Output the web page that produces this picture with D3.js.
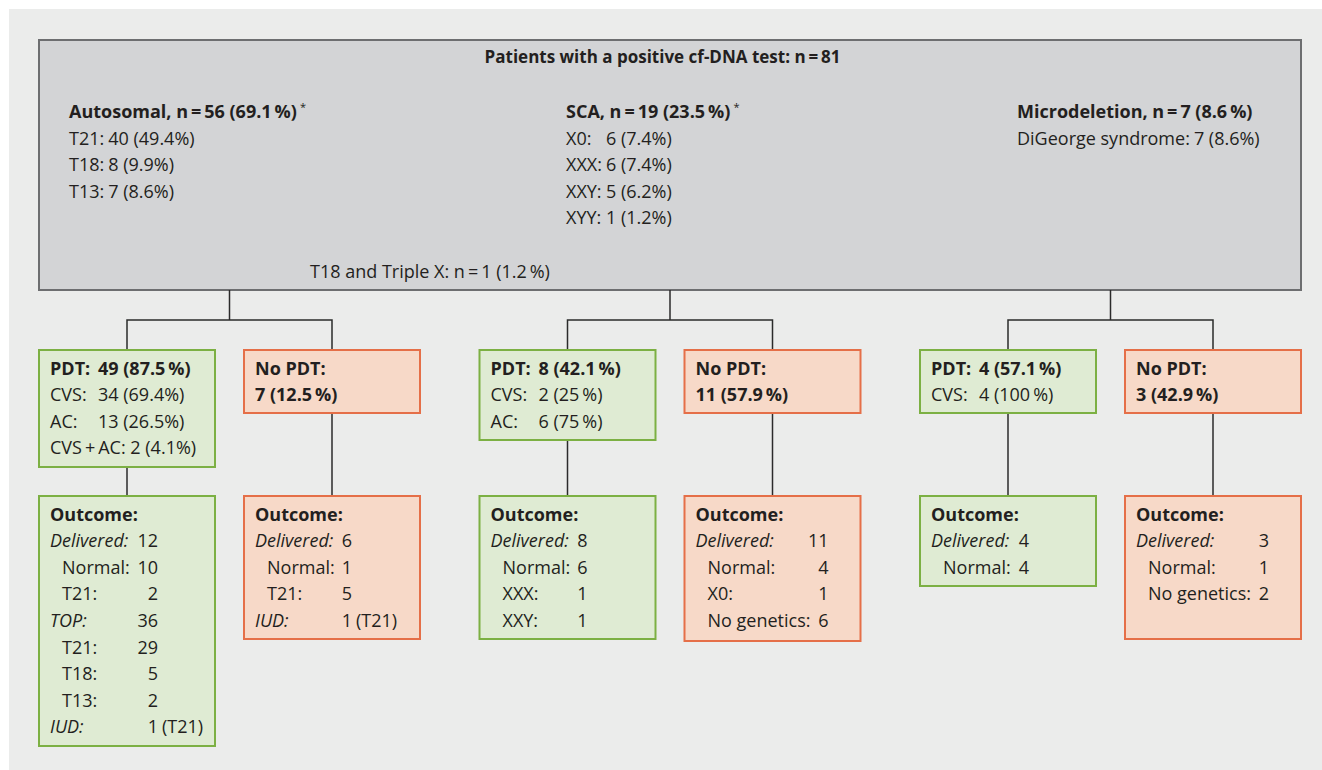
<!DOCTYPE html>
<html>
<head>
<meta charset="utf-8">
<script src="https://cdn.jsdelivr.net/npm/d3@7"></script>
<style>
  html, body { margin: 0; padding: 0; background: #ffffff; }
  svg text { font-family: "Open Sans", Lato, sans-serif; fill: #231f20; }
</style>
</head>
<body>
<div id="chart"></div>
<script>
// Texte du schéma
const title = "Patients with a positive cf-DNA test: n\u2009=\u200981";
const groupHeads = ["Autosomal, n\u2009=\u200956 (69.1\u2009%)", "SCA, n\u2009=\u200919 (23.5\u2009%)", "Microdeletion, n\u2009=\u20097 (8.6\u2009%)"];
const groupStars = [true, true, false];
const groupLines = [
  [["T21:", "40 (49.4%)"], ["T18:", "8 (9.9%)"], ["T13:", "7 (8.6%)"]],
  [["X0:", "6 (7.4%)"], ["XXX:", "6 (7.4%)"], ["XXY:", "5 (6.2%)"], ["XYY:", "1 (1.2%)"]],
  [["DiGeorge syndrome:", "7 (8.6%)"]]
];
const overlapNote = "T18 and Triple X: n\u2009=\u20091 (1.2\u2009%)";

// [label, value, style, suffix]
const pdtLines = [
  [["PDT:", "49 (87.5\u2009%)", "head"], ["CVS:", "34 (69.4%)"], ["AC:", "13 (26.5%)"], ["CVS\u2009+\u2009AC: 2 (4.1%)"]],
  [["PDT:", "8 (42.1\u2009%)", "head"], ["CVS:", "2 (25\u2009%)"], ["AC:", "6 (75\u2009%)"]],
  [["PDT:", "4 (57.1\u2009%)", "head"], ["CVS:", "4 (100\u2009%)"]]
];
const noPdtLines = [
  [["No PDT:", null, "head"], ["7 (12.5\u2009%)", null, "head"]],
  [["No PDT:", null, "head"], ["11 (57.9\u2009%)", null, "head"]],
  [["No PDT:", null, "head"], ["3 (42.9\u2009%)", null, "head"]]
];
const pdtOutcome = [
  [["Outcome:", null, "head"], ["Delivered:", "12", "cat"], ["Normal:", "10", "sub"], ["T21:", "2", "sub"],
   ["TOP:", "36", "cat"], ["T21:", "29", "sub"], ["T18:", "5", "sub"], ["T13:", "2", "sub"], ["IUD:", "1", "cat", "(T21)"]],
  [["Outcome:", null, "head"], ["Delivered:", "8", "cat"], ["Normal:", "6", "sub"], ["XXX:", "1", "sub"], ["XXY:", "1", "sub"]],
  [["Outcome:", null, "head"], ["Delivered:", "4", "cat"], ["Normal:", "4", "sub"]]
];
const noPdtOutcome = [
  [["Outcome:", null, "head"], ["Delivered:", "6", "cat"], ["Normal:", "1", "sub"], ["T21:", "5", "sub"], ["IUD:", "1", "cat", "(T21)"]],
  [["Outcome:", null, "head"], ["Delivered:", "11", "cat"], ["Normal:", "4", "sub"], ["X0:", "1", "sub"], ["No genetics:", "6", "sub"]],
  [["Outcome:", null, "head"], ["Delivered:", "3", "cat"], ["Normal:", "1", "sub"], ["No genetics:", "2", "sub"]]
];

// Mise en page
const config = {
  width: 1322, height: 770, fs: 18, titleFs: 17,
  top: { x: 39, y: 40, w: 1262, h: 250 },
  boxW: 176, redShift: 205,
  branchY: 320, row1Y: 350, row2Y: 496,
  lineStep: 26.6, firstBase: 24.5, padX: 11, indent: 12,
  pdtH: [117, 90, 63], noPdtH: [63, 63, 63],
  pdtOutH: [250, 143, 90], noPdtOutH: [143, 145, 143],
  pdtValX: [59, 59, 59],          // début de la colonne valeur
  noPdtValX: [0, 0, 0],
  pdtOutValX: [119, 108, 109],    // bord droit de la colonne valeur
  noPdtOutValX: [108, 144, 144],
  groupX: [69, 566, 1017],
  headY: 118, titleY: 63, noteY: 278
};

const colors = {
  bg: "#ebeceb", grayFill: "#d3d4d6", grayStroke: "#6d6e70",
  greenFill: "#dfebd3", greenStroke: "#7cb043",
  redFill: "#f7d9c8", redStroke: "#e56f48",
  line: "#2b2b2b"
};

const svg = d3.select("#chart").append("svg")
  .attr("width", config.width).attr("height", config.height);

svg.append("rect").attr("x", 9).attr("y", 9)
  .attr("width", config.width - 9).attr("height", config.height - 9)
  .attr("fill", colors.bg);

// échelle des colonnes (groupe -> x de la boîte verte)
const xScale = d3.scaleLinear().domain([0, 2]).range([39, 920]);
const groupCenter = g => (xScale(g) + xScale(g) + config.redShift + config.boxW) / 2;

// Boîte du haut
const t = config.top;
svg.append("rect").attr("x", t.x).attr("y", t.y).attr("width", t.w).attr("height", t.h)
  .attr("fill", colors.grayFill).attr("stroke", colors.grayStroke).attr("stroke-width", 2);

svg.append("text").attr("x", 662.5).attr("y", config.titleY).attr("text-anchor", "middle")
  .attr("font-size", config.titleFs).attr("font-weight", "bold").text(title);

groupHeads.forEach((h, g) => {
  const gx = config.groupX[g];
  const head = svg.append("text").attr("x", gx).attr("y", config.headY)
    .attr("font-size", config.fs).attr("font-weight", "bold").text(h);
  if (groupStars[g]) {
    head.append("tspan").attr("dx", 3).attr("dy", -7).attr("font-size", 11).attr("font-weight", "normal").text("*");
  }
  // colonne des valeurs
  const probe = svg.append("g");
  let maxW = 0;
  groupLines[g].forEach(l => {
    const n = probe.append("text").attr("font-size", config.fs).text(l[0]);
    maxW = Math.max(maxW, n.node().getComputedTextLength());
  });
  probe.remove();
  groupLines[g].forEach((l, i) => {
    const y = config.headY + (i + 1) * config.lineStep;
    svg.append("text").attr("x", gx).attr("y", y).attr("font-size", config.fs).text(l[0]);
    svg.append("text").attr("x", gx + maxW + 4).attr("y", y).attr("font-size", config.fs).text(l[1]);
  });
});

svg.append("text").attr("x", 310).attr("y", config.noteY).attr("font-size", config.fs).text(overlapNote);

// Connecteurs
const conn = svg.append("g").attr("stroke", colors.line).attr("stroke-width", 1.5).attr("fill", "none");
d3.range(3).forEach(g => {
  const cx = groupCenter(g);
  const gx = xScale(g) + config.boxW / 2;
  const rx = xScale(g) + config.redShift + config.boxW / 2;
  conn.append("path").attr("d", `M${cx},${t.y + t.h}V${config.branchY}`);
  conn.append("path").attr("d", `M${gx},${config.row1Y}V${config.branchY}H${rx}V${config.row1Y}`);
  conn.append("path").attr("d", `M${gx},${config.row1Y + config.pdtH[g]}V${config.row2Y}`);
  conn.append("path").attr("d", `M${rx},${config.row1Y + config.noPdtH[g]}V${config.row2Y}`);
});

// Dessin d'une boîte avec ses lignes
function drawBox(x, y, h, lines, fill, stroke, valX, rightAlign) {
  const g = svg.append("g").attr("transform", `translate(${x},${y})`);
  g.append("rect").attr("width", config.boxW).attr("height", h)
    .attr("fill", fill).attr("stroke", stroke).attr("stroke-width", 2);
  lines.forEach((l, i) => {
    const [label, value, style, suffix] = l;
    const by = config.firstBase + i * config.lineStep;
    const lx = config.padX + (style === "sub" ? config.indent : 0);
    const lab = g.append("text").attr("x", lx).attr("y", by).attr("font-size", config.fs).text(label);
    if (style === "head") lab.attr("font-weight", "bold");
    if (style === "cat") lab.attr("font-style", "italic");
    if (value != null) {
      const v = g.append("text").attr("x", valX).attr("y", by).attr("font-size", config.fs)
        .attr("text-anchor", rightAlign ? "end" : "start").text(value);
      if (style === "head") v.attr("font-weight", "bold");
      if (suffix) g.append("text").attr("x", valX + 4).attr("y", by).attr("font-size", config.fs).text(suffix);
    }
  });
}

d3.range(3).forEach(g => {
  const gx = xScale(g), rx = xScale(g) + config.redShift;
  drawBox(gx, config.row1Y, config.pdtH[g], pdtLines[g], colors.greenFill, colors.greenStroke, config.pdtValX[g], false);
  drawBox(rx, config.row1Y, config.noPdtH[g], noPdtLines[g], colors.redFill, colors.redStroke, config.noPdtValX[g], false);
  drawBox(gx, config.row2Y, config.pdtOutH[g], pdtOutcome[g], colors.greenFill, colors.greenStroke, config.pdtOutValX[g], true);
  drawBox(rx, config.row2Y, config.noPdtOutH[g], noPdtOutcome[g], colors.redFill, colors.redStroke, config.noPdtOutValX[g], true);
});
</script>
</body>
</html>
